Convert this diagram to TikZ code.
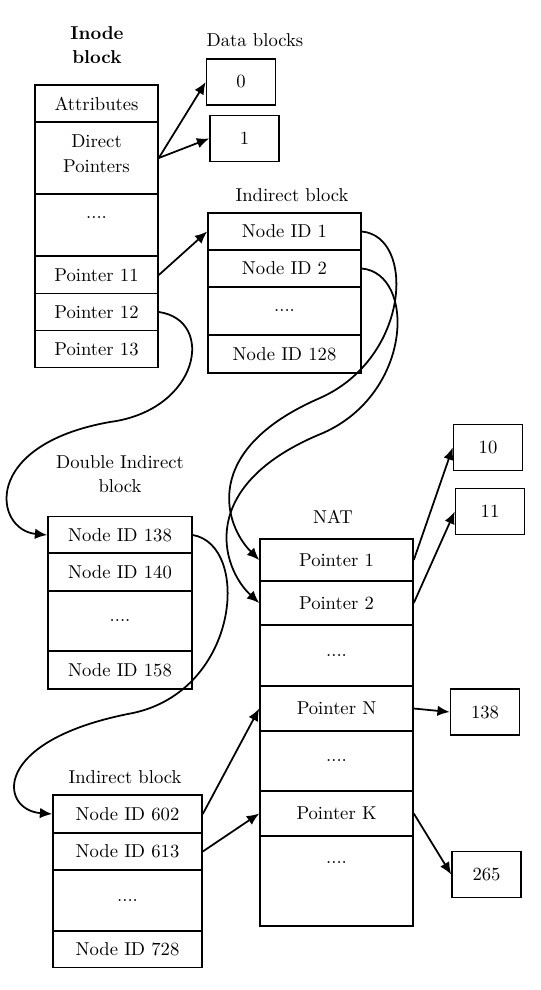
\documentclass[tikz,border=0pt]{standalone}
\usetikzlibrary{arrows.meta}
\begin{document}
\begin{tikzpicture}[x=0.2mm,y=0.2mm,
            font=\fontsize{10.6}{13.7}\selectfont,
            >={Latex[length=7pt,width=6pt]},
            cell/.style={rectangle,draw,line width=0.9pt,inner sep=0pt,minimum height=7.4mm},
            icell/.style={cell,minimum width=24.6mm},
            ncell/.style={cell,minimum width=30.6mm},
            dcell/.style={cell,minimum width=28.8mm},
            mcell/.style={cell,minimum width=29.8mm},
            small/.style={cell,minimum width=13.8mm,minimum height=9.2mm},
            title/.style={align=center,inner sep=0pt},
            link/.style={->,draw,line width=1pt}]
            \useasboundingbox (0,0) rectangle (541,-990);
            % inode block
            \node[title,font=\fontsize{10.6}{13.7}\selectfont\bfseries] (inode) at (97,-45) {Inode\\block};
            \node[icell] (attr) at (96.5,-103.5) {Attributes};
            \node[icell,minimum height=14.4mm,align=center,text depth=5pt] (direct) at (96.5,-158) {Direct\\Pointers};
            \node[icell,minimum height=12.4mm,text depth=8pt] (idots) at (96.5,-225) {....};
            \node[icell] (p11) at (96.5,-275) {Pointer 11};
            \node[icell] (p12) at (96.5,-312) {Pointer 12};
            \node[icell] (p13) at (96.5,-349) {Pointer 13};
            % data blocks
            \node[title] (datalbl) at (255,-40) {Data blocks};
            \node[small] (b0) at (241,-82) {0};
            \node[small] (b1) at (244.5,-138.5) {1};
            % indirect block
            \node[title] (indlbl) at (292,-195) {Indirect block};
            \node[ncell] (n1) at (284.5,-231.5) {Node ID 1};
            \node[ncell] (n2) at (284.5,-268.5) {Node ID 2};
            \node[ncell,minimum height=9.6mm] (ndots) at (284.5,-311) {....};
            \node[ncell,minimum height=7.6mm] (n128) at (284.5,-354) {Node ID 128};
            % double indirect block
            \node[title] (dbllbl) at (120,-474) {Double Indirect\\block};
            \node[dcell] (d138) at (120,-535) {Node ID 138};
            \node[dcell,minimum height=7.6mm] (d140) at (120,-572) {Node ID 140};
            \node[dcell,minimum height=12mm] (ddots) at (120,-621) {....};
            \node[dcell,minimum height=7.6mm] (d158) at (120,-670) {Node ID 158};
            % second indirect block
            \node[title] (ind2lbl) at (125,-777) {Indirect block};
            \node[mcell,minimum height=7.6mm] (m602) at (127.5,-814) {Node ID 602};
            \node[mcell] (m613) at (127.5,-851.5) {Node ID 613};
            \node[mcell,minimum height=12.2mm] (mdots) at (127.5,-900.5) {....};
            \node[mcell] (m728) at (127.5,-949) {Node ID 728};
            % NAT
            \node[title] (natlbl) at (333,-517) {NAT};
            \node[ncell,minimum height=8.4mm] (q1) at (336.5,-560) {Pointer 1};
            \node[ncell,minimum height=8.8mm] (q2) at (336.5,-603) {Pointer 2};
            \node[ncell,minimum height=12.2mm] (qdots1) at (336.5,-655.5) {....};
            \node[ncell,minimum height=9mm] (qN) at (336.5,-708.5) {Pointer N};
            \node[ncell,minimum height=12mm] (qdots2) at (336.5,-761) {....};
            \node[ncell,minimum height=9mm] (qK) at (336.5,-813.5) {Pointer K};
            \node[ncell,minimum height=18mm,text depth=21pt] (qdots3) at (336.5,-881) {....};
            % blocks pointed to by NAT
            \node[small] (b10) at (488,-447.5) {10};
            \node[small] (b11) at (490,-511.5) {11};
            \node[small] (b138) at (485,-712) {138};
            \node[small] (b265) at (486.5,-874.5) {265};
            \coordinate (mA) at (320,-398);
            \coordinate (mB) at (323,-433);
            \coordinate (mC) at (110,-422);
            \coordinate (mD) at (133,-713);

            \path[link] (direct.east) -- (b0.west);
            \path[link] (direct.east) -- (b1.west);
            \path[link] (p11.east) -- (n1.west);
            \path[link] (p12.east) .. controls +(57,-8) and +(90,12) .. (mC)
              .. controls +(-130,-23) and +(-53,5) .. (d138.west);
            \path[link] (d138.east) .. controls +(58,-10) and +(107,23) .. (mD)
              .. controls +(-143,-27) and +(-53,4) .. (m602.west);
            \path[link] (n1.east) .. controls +(54,-5) and +(90,40) .. (mA)
              .. controls +(-120,-52) and +(-35,35) .. (q1.west);
            \path[link] (n2.east) .. controls +(54,-5) and +(90,40) .. (mB)
              .. controls +(-128,-52) and +(-38,35) .. (q2.west);
            \path[link] (m602.east) -- (qN.west);
            \path[link] (m613.east) -- (qK.west);
            \path[link] (q1.east) -- (b10.west);
            \path[link] (q2.east) -- (b11.west);
            \path[link] (qN.east) -- (b138.west);
            \path[link] (qK.east) -- (b265.west);

          \end{tikzpicture}
\end{document}
